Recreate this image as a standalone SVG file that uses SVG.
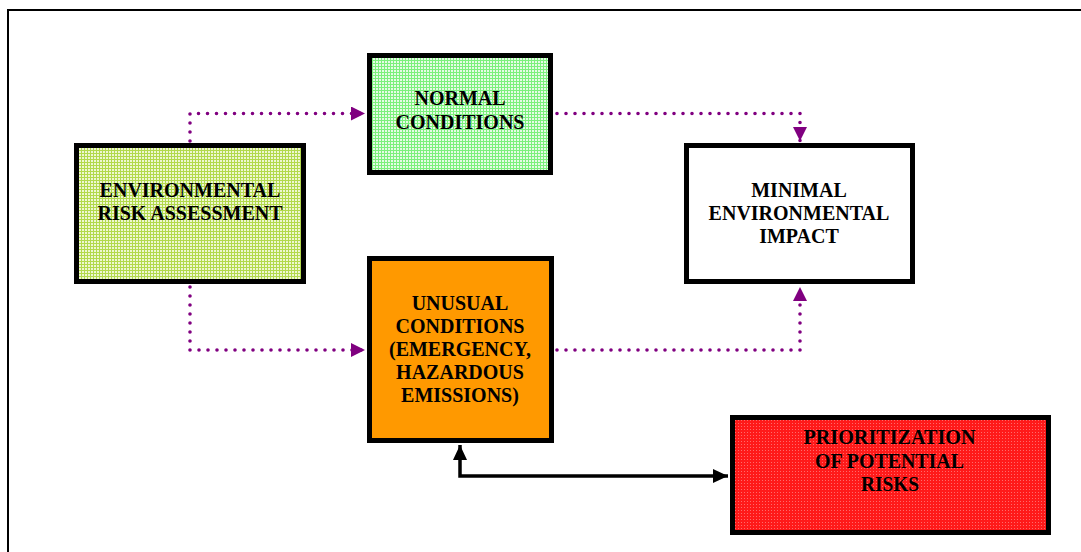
<svg xmlns="http://www.w3.org/2000/svg" width="1081" height="552" viewBox="0 0 1081 552">
  <style>
    .box { stroke: #000; stroke-width: 5; }
    .label { font-family: "Liberation Serif", "Times New Roman", serif; font-weight: bold; font-size: 20px; fill: #000; text-anchor: middle; }
    .dotted { fill: none; stroke: #800080; stroke-width: 3.6; stroke-dasharray: 0 9; stroke-linecap: round; }
    .solid { fill: none; stroke: #000; stroke-width: 3.5; }
  </style>
  <defs>
    <!-- fine grid fills used by the shaded boxes -->
    <pattern id="fillYellowGreen" width="3" height="3" patternUnits="userSpaceOnUse">
      <rect width="3" height="3" fill="#eef7d2"/>
      <rect width="3" height="1" fill="#b2d94c"/>
      <rect width="1" height="3" fill="#b2d94c"/>
    </pattern>
    <pattern id="fillGreen" width="3" height="3" patternUnits="userSpaceOnUse">
      <rect width="3" height="3" fill="#e6fbe6"/>
      <rect width="3" height="1" fill="#7cf07c"/>
      <rect width="1" height="3" fill="#7cf07c"/>
    </pattern>
    <pattern id="fillRed" width="3" height="3" patternUnits="userSpaceOnUse">
      <rect width="3" height="3" fill="#ff1a1a"/>
      <rect width="1" height="1" fill="#ff6a6a"/>
    </pattern>
    <marker id="purpleHead" viewBox="0 0 14 14" refX="14" refY="7" markerWidth="14" markerHeight="14" markerUnits="userSpaceOnUse" orient="auto">
      <path d="M0,0 L14,7 L0,14 z" fill="#800080"/>
    </marker>
    <marker id="blackHead" viewBox="0 0 15 14" refX="15" refY="7" markerWidth="15" markerHeight="14" markerUnits="userSpaceOnUse" orient="auto-start-reverse">
      <path d="M0,0 L15,7 L0,14 z" fill="#000"/>
    </marker>
  </defs>

  <rect width="1081" height="552" fill="#fff"/>
  <!-- page frame -->
  <path d="M8,552 V10 H1081" fill="none" stroke="#000" stroke-width="2"/>

  <g id="connectors">
    <path class="dotted" d="M190,141 V113.5 H365" marker-end="url(#purpleHead)"/>
    <path class="dotted" d="M557,113.5 H800 V141" marker-end="url(#purpleHead)"/>
    <path class="dotted" d="M190,287 V350 H365" marker-end="url(#purpleHead)"/>
    <path class="dotted" d="M557,350 H800 V287" marker-end="url(#purpleHead)"/>
    <path class="solid" d="M460,445 V476 H728" marker-start="url(#blackHead)" marker-end="url(#blackHead)"/>
  </g>

  <g id="risk-assessment">
    <rect class="box" x="76.5" y="145.5" width="227" height="136" fill="url(#fillYellowGreen)"/>
    <text class="label" x="190" y="197">ENVIRONMENTAL</text>
    <text class="label" x="190" y="220">RISK ASSESSMENT</text>
  </g>

  <g id="normal-conditions">
    <rect class="box" x="369.5" y="55.5" width="181" height="117" fill="url(#fillGreen)"/>
    <text class="label" x="460" y="105">NORMAL</text>
    <text class="label" x="460" y="129">CONDITIONS</text>
  </g>

  <g id="minimal-impact">
    <rect class="box" x="686.5" y="145.5" width="226" height="136" fill="#fff"/>
    <text class="label" x="799" y="197">MINIMAL</text>
    <text class="label" x="799" y="220">ENVIRONMENTAL</text>
    <text class="label" x="799" y="243">IMPACT</text>
  </g>

  <g id="unusual-conditions">
    <rect class="box" x="369.5" y="258.5" width="182" height="182" fill="#ff9900"/>
    <text class="label" x="460" y="310">UNUSUAL</text>
    <text class="label" x="460" y="333">CONDITIONS</text>
    <text class="label" x="460" y="356">(EMERGENCY,</text>
    <text class="label" x="460" y="379">HAZARDOUS</text>
    <text class="label" x="460" y="402">EMISSIONS)</text>
  </g>

  <g id="prioritization">
    <rect class="box" x="732.5" y="417.5" width="316" height="115" fill="url(#fillRed)"/>
    <text class="label" x="889.5" y="444" textLength="172" lengthAdjust="spacingAndGlyphs">PRIORITIZATION</text>
    <text class="label" x="889.5" y="467.5" textLength="149" lengthAdjust="spacingAndGlyphs">OF POTENTIAL</text>
    <text class="label" x="890" y="491" textLength="58" lengthAdjust="spacingAndGlyphs">RISKS</text>
  </g>
</svg>
